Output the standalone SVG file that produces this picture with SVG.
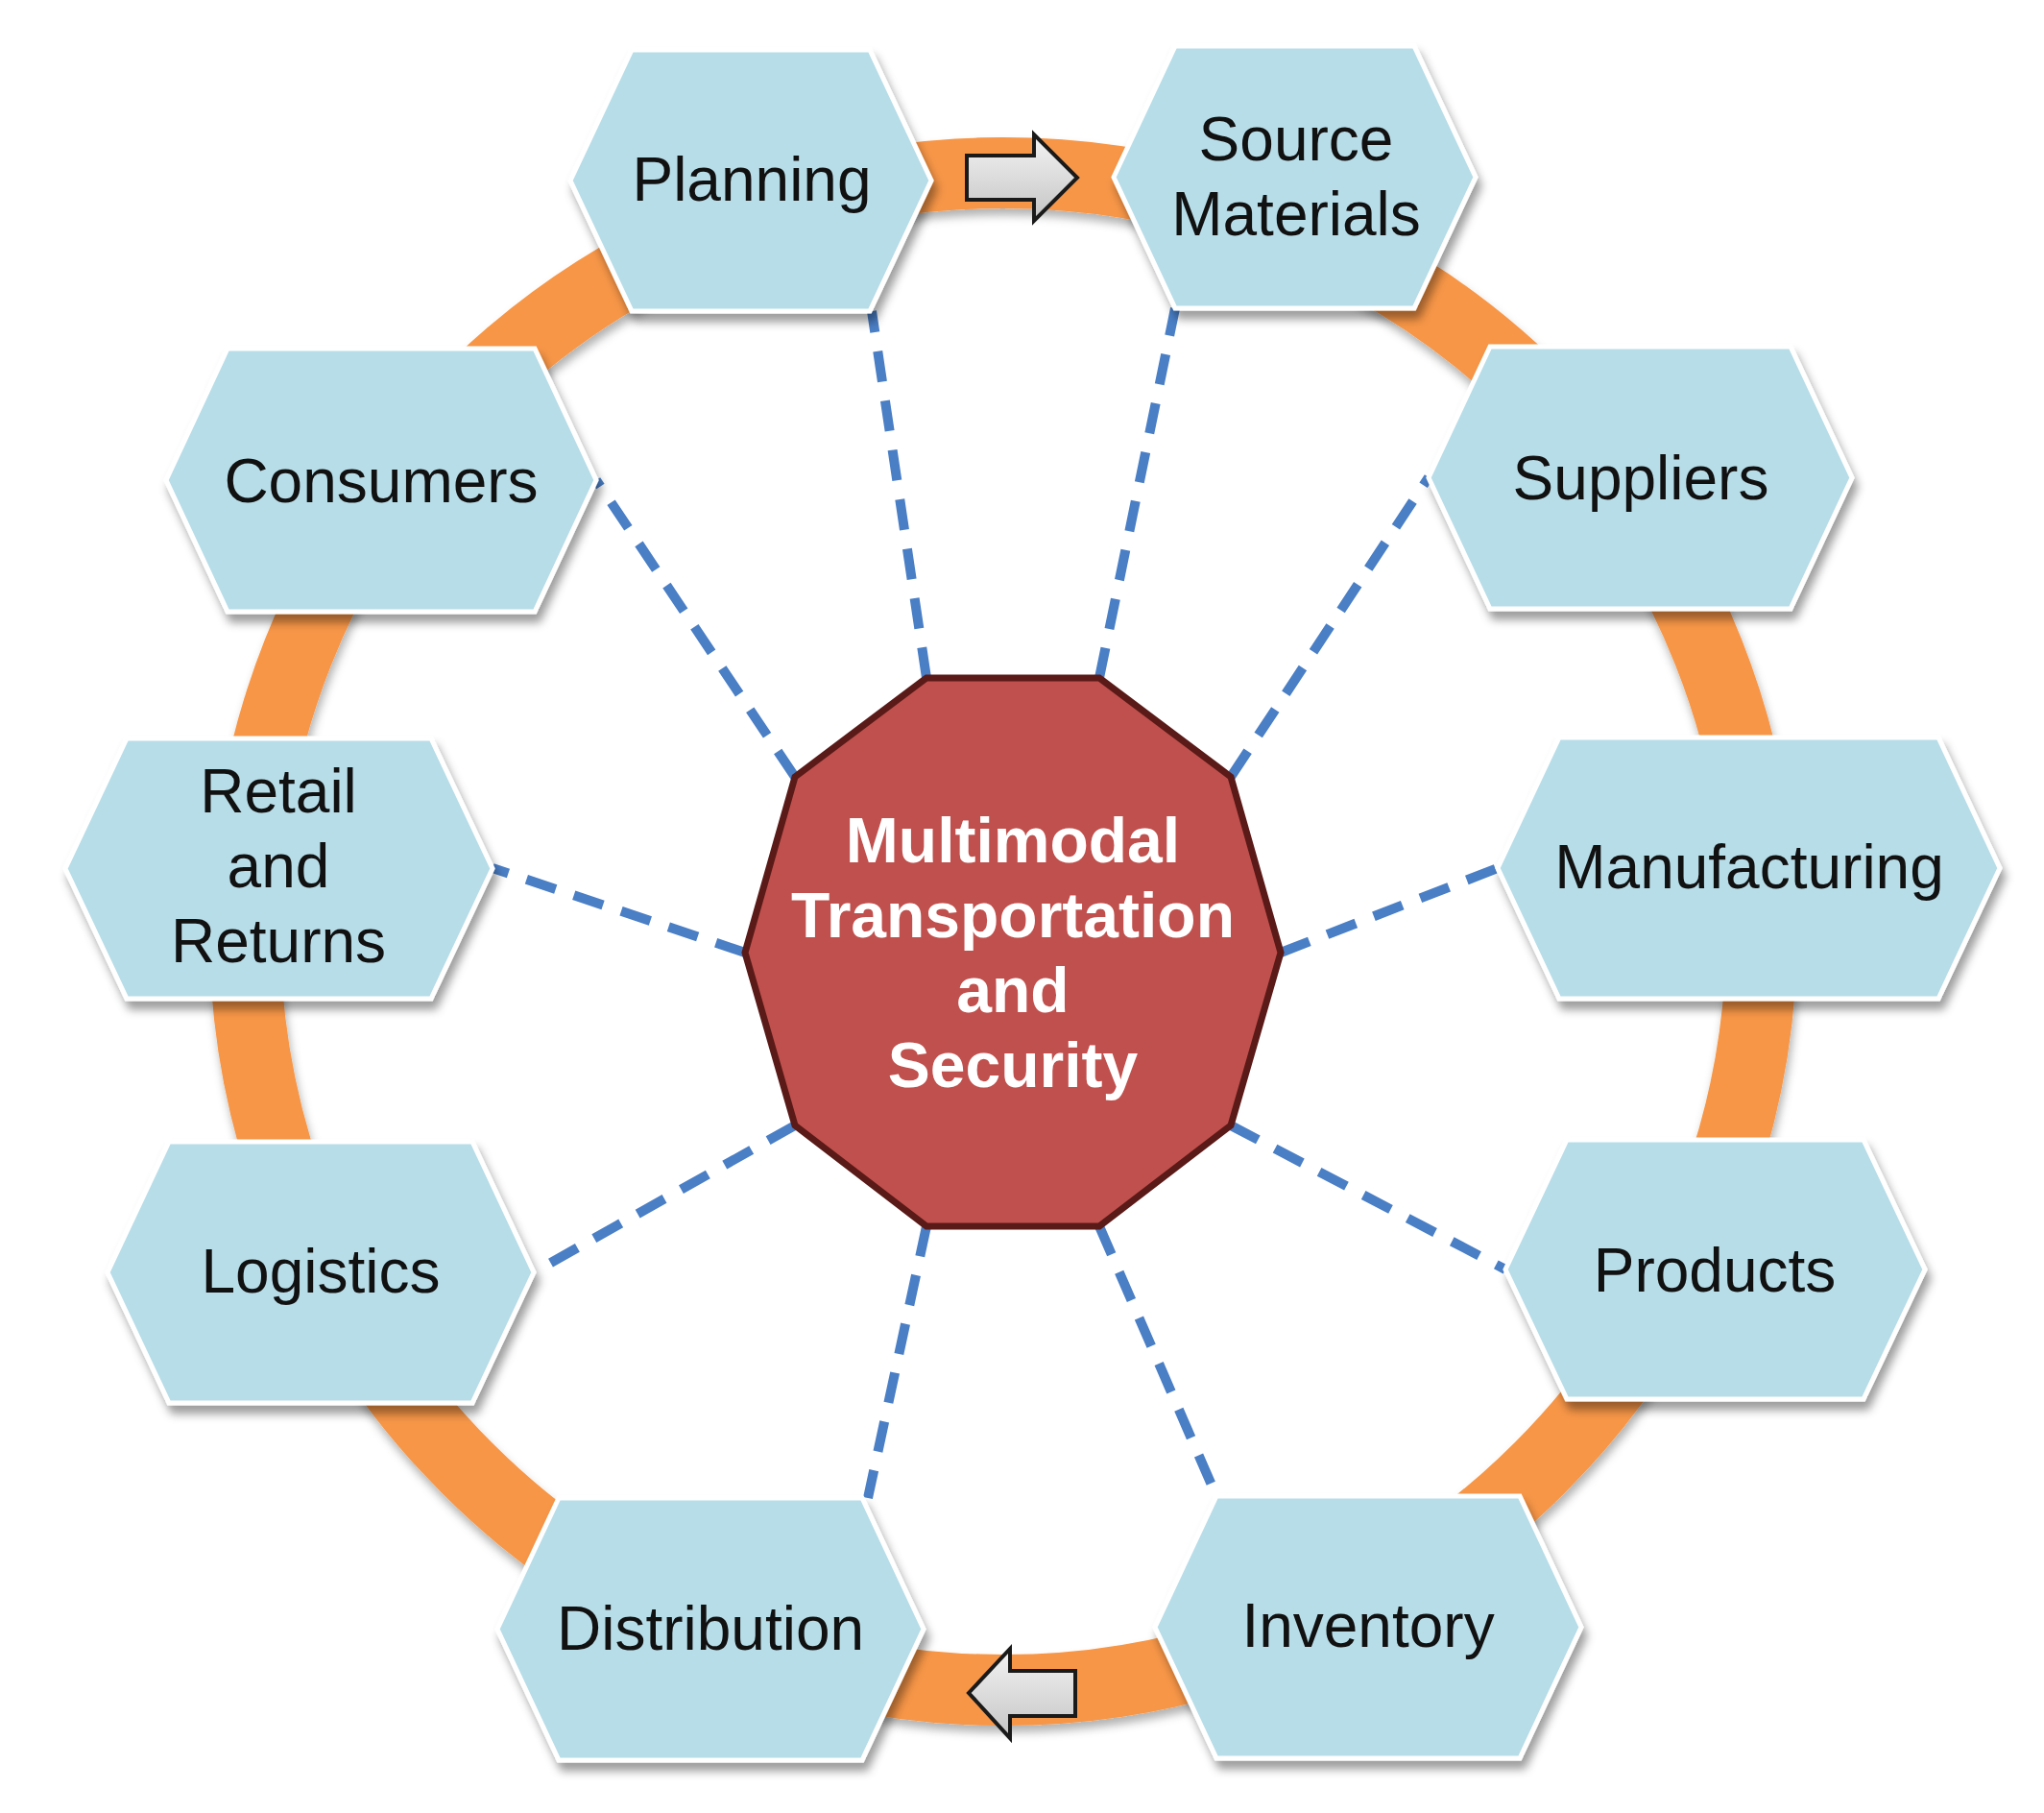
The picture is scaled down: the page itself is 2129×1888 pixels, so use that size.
<svg xmlns="http://www.w3.org/2000/svg" width="2129" height="1888" viewBox="0 0 2129 1888">
<defs>
<filter id="hexShadow" x="-10%" y="-10%" width="125%" height="130%">
<feDropShadow dx="4" dy="9" stdDeviation="5" flood-color="#000" flood-opacity="0.38"/>
</filter>
<filter id="ringShadow" x="-10%" y="-10%" width="120%" height="120%">
<feDropShadow dx="2" dy="7" stdDeviation="5" flood-color="#000" flood-opacity="0.3"/>
</filter>
<linearGradient id="arrowFill" x1="0" y1="0" x2="0" y2="1">
<stop offset="0" stop-color="#f4f4f4"/>
<stop offset="1" stop-color="#c4c4c4"/>
</linearGradient>
<style>
.hex{fill:#b7dde8;stroke:#ffffff;stroke-width:5;filter:url(#hexShadow)}
.lbl{font-family:"Liberation Sans",Arial,sans-serif;font-size:64px;fill:#111111;text-anchor:middle}
.ctr{font-family:"Liberation Sans",Arial,sans-serif;font-size:66px;font-weight:bold;fill:#ffffff;text-anchor:middle}
.dash{stroke:#4a7fc6;stroke-width:10;stroke-dasharray:32 20;fill:none}
.arrow{fill:url(#arrowFill);stroke:#1a1a1a;stroke-width:4;stroke-linejoin:miter}
</style>
</defs>
<rect width="2129" height="1888" fill="#ffffff"/>

<g id="ring">
<circle cx="1045" cy="970" r="790" fill="none" stroke="#f79646" stroke-width="74" filter="url(#ringShadow)"/>
</g>

<g id="connectors">
<line class="dash" x1="965" y1="706" x2="908" y2="324"/>
<line class="dash" x1="1145" y1="706" x2="1224" y2="321"/>
<line class="dash" x1="1282" y1="809" x2="1488" y2="497"/>
<line class="dash" x1="1334" y1="992" x2="1560" y2="904"/>
<line class="dash" x1="1282" y1="1172" x2="1568" y2="1322"/>
<line class="dash" x1="1145" y1="1277" x2="1267" y2="1558"/>
<line class="dash" x1="965" y1="1277" x2="904" y2="1560"/>
<line class="dash" x1="828" y1="1172" x2="556" y2="1325"/>
<line class="dash" x1="776" y1="992" x2="513" y2="904"/>
<line class="dash" x1="828" y1="809" x2="621" y2="500"/>
</g>

<g id="planning">
<polygon class="hex" points="594,188 658,52 906,52 970,188 906,324 658,324"/>
<text class="lbl" x="783" y="209">Planning</text>
</g>
<g id="source-materials">
<polygon class="hex" points="1160,184.5 1224,48 1473,48 1537,184.5 1473,321 1224,321"/>
<text class="lbl" x="1350" y="167">Source</text>
<text class="lbl" x="1350" y="245">Materials</text>
</g>
<g id="suppliers">
<polygon class="hex" points="1488,497.5 1552,361 1865,361 1929,497.5 1865,634 1552,634"/>
<text class="lbl" x="1709" y="520">Suppliers</text>
</g>
<g id="consumers">
<polygon class="hex" points="173,500 237,363 557,363 621,500 557,637 237,637"/>
<text class="lbl" x="397" y="523">Consumers</text>
</g>
<g id="retail-returns">
<polygon class="hex" points="68,904.5 132,769 449,769 513,904.5 449,1040 132,1040"/>
<text class="lbl" x="290" y="846">Retail</text>
<text class="lbl" x="290" y="924">and</text>
<text class="lbl" x="290" y="1002">Returns</text>
</g>
<g id="manufacturing">
<polygon class="hex" points="1560,904 1624,768 2019,768 2083,904 2019,1040 1624,1040"/>
<text class="lbl" x="1822" y="925">Manufacturing</text>
</g>
<g id="logistics">
<polygon class="hex" points="112,1325 176,1189 492,1189 556,1325 492,1461 176,1461"/>
<text class="lbl" x="334" y="1346">Logistics</text>
</g>
<g id="products">
<polygon class="hex" points="1568,1322 1632,1187 1941,1187 2005,1322 1941,1457 1632,1457"/>
<text class="lbl" x="1786" y="1345">Products</text>
</g>
<g id="distribution">
<polygon class="hex" points="518,1696.5 582,1560 898,1560 962,1696.5 898,1833 582,1833"/>
<text class="lbl" x="740" y="1718">Distribution</text>
</g>
<g id="inventory">
<polygon class="hex" points="1203,1694.5 1267,1558 1583,1558 1647,1694.5 1583,1831 1267,1831"/>
<text class="lbl" x="1425" y="1715">Inventory</text>
</g>

<g id="center">
<polygon points="965,706 1145,706 1282,809 1334,992 1282,1172 1145,1277 965,1277 828,1172 776,992 828,809" fill="#c0504d" stroke="#5a1a18" stroke-width="7" stroke-linejoin="miter"/>
<text class="ctr" x="1055" y="898">Multimodal</text>
<text class="ctr" x="1055" y="976">Transportation</text>
<text class="ctr" x="1055" y="1054">and</text>
<text class="ctr" x="1055" y="1132">Security</text>
</g>

<g id="arrows">
<polygon class="arrow" points="1007,162 1077,162 1077,140 1122,185 1077,230 1077,208 1007,208"/>
<polygon class="arrow" points="1120,1740 1052,1740 1052,1717 1009,1763 1052,1810 1052,1787 1120,1787"/>
</g>
</svg>
